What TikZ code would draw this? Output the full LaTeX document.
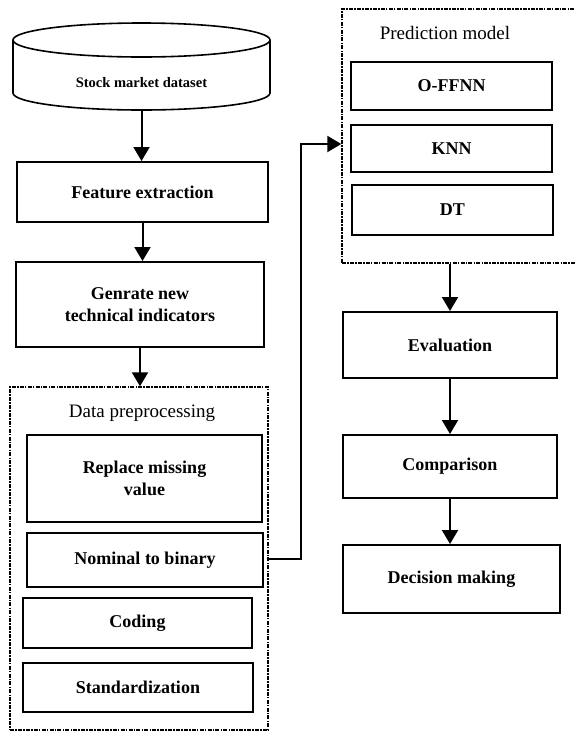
\documentclass[tikz,border=0pt]{standalone}
\usepackage{fontspec}
\setmainfont{Liberation Serif}
\usetikzlibrary{arrows.meta,calc}

\tikzset{
  box/.style={draw, line width=2pt, align=center, inner sep=0pt, font=\bfseries\fontsize{18}{22.5}\selectfont},
  dbox/.style={draw, line width=1.4pt, dash pattern=on 4pt off 1.2pt on 1.5pt off 1.2pt},
  ttl/.style={font=\fontsize{19}{22}\selectfont},
  arr/.style={line width=2pt, -{Triangle[length=14pt,width=16pt]}}
}

\begin{document}
\begin{tikzpicture}[x=1pt,y=-1pt]
	\clip (0,0) rectangle (575,732);
	%dataset (cylinder)
	\node (ds) [minimum width=257, minimum height=54, inner sep=0pt, font=\bfseries\fontsize{14.5}{17}\selectfont] at (141.5,83) {Stock market dataset};
	\draw[line width=1.6pt] (13,40) -- (13,93) arc [start angle=180, end angle=0, x radius=128.5, y radius=17] -- (270,40);
	\draw[line width=1.6pt] (141.5,40) ellipse [x radius=128.5, y radius=17];

	%left column
	\node (fe) [box, minimum width=251, minimum height=60] at (142.5,192) {Feature extraction};
	\node (gen) [box, minimum width=248, minimum height=85] at (140,304.5) {Genrate new\\technical indicators};
	\node (dp) [dbox, minimum width=258, minimum height=343] at (139,558.5) {};
	\node (dpt) [ttl] at (142,413) {Data preprocessing};
	\node (rmv) [box, minimum width=235, minimum height=87] at (144.5,478.5) {Replace missing\\value};
	\node (ntb) [box, minimum width=236, minimum height=54] at (145,560) {Nominal to binary};
	\node (cod) [box, minimum width=229, minimum height=50] at (137.5,623) {Coding};
	\node (std) [box, minimum width=230, minimum height=49] at (138,687.5) {Standardization};

	%right column
	\node (pm) [dbox, minimum width=238, minimum height=254] at (461,136) {};
	\node (pmt) [ttl] at (445,33) {Prediction model};
	\node (ffnn) [box, minimum width=201, minimum height=48] at (451.5,86) {O-FFNN};
	\node (knn) [box, minimum width=201, minimum height=47] at (451.5,148.5) {KNN};
	\node (dt) [box, minimum width=201, minimum height=50] at (452.5,210) {DT};
	\node (ev) [box, minimum width=214, minimum height=66] at (450,345) {Evaluation};
	\node (cmp) [box, minimum width=214, minimum height=63] at (450,466.5) {Comparison};
	\node (dm) [box, minimum width=217, minimum height=68] at (451.5,579) {Decision making};

	%arrows
	\draw[arr] (ds.south) -- (ds.south |- fe.north);
	\draw[arr] (fe.south) -- (fe.south |- gen.north);
	\draw[arr] (gen.south) -- (gen.south |- dp.north);
	\draw[arr] (dp.east) -- ++(32,0) |- ([yshift=-8pt]pm.west);
	\draw[arr] (ev.north |- pm.south) -- (ev.north);
	\draw[arr] (ev.south) -- (ev.south |- cmp.north);
	\draw[arr] (cmp.south) -- (cmp.south |- dm.north);
\end{tikzpicture}
\end{document}
